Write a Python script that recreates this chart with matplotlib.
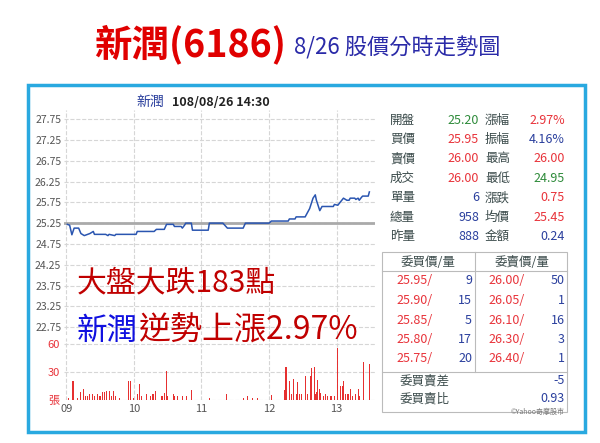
import matplotlib
matplotlib.use("Agg")
import matplotlib.pyplot as plt
from matplotlib.patches import Rectangle
from matplotlib.lines import Line2D

plt.rcParams['font.family'] = ['Noto Sans CJK TC', 'DejaVu Sans']

W, H = 600, 443

# minutes after 09:00 and price
price_t = [1, 3, 5, 7, 11, 13, 16, 21, 24, 25, 35, 37, 38, 43, 44, 62, 63, 78, 80, 87, 89, 95, 96,
           102, 103, 105, 106, 111, 112, 126, 127, 139, 143, 157, 159, 180, 182, 197, 198, 203, 204,
           212, 213, 216, 219, 221, 222, 225, 227, 237, 238, 241, 246, 249, 251, 252, 256, 257, 259,
           260, 262, 263, 268, 269]
price_v = [25.22, 25.20, 24.97, 25.13, 25.13, 25.00, 24.95, 25.00, 25.05, 24.98, 24.98, 24.95, 24.98,
           24.95, 24.98, 24.98, 25.05, 25.05, 25.10, 25.10, 25.22, 25.22, 25.17, 25.17, 25.13, 25.20,
           25.25, 25.25, 25.08, 25.08, 25.25, 25.25, 25.13, 25.13, 25.25, 25.25, 25.30, 25.30, 25.35,
           25.35, 25.40, 25.40, 25.45, 25.60, 25.85, 25.93, 25.80, 25.55, 25.65, 25.65, 25.70, 25.68,
           25.85, 25.80, 25.80, 25.85, 25.85, 25.82, 25.85, 25.80, 25.87, 25.90, 25.90, 26.00]
prev_close = 25.25

vol_t = [2, 6, 10, 13, 15, 17, 19, 21, 23, 25, 28, 30, 32, 34, 36, 38, 40, 42, 44, 47,
         55, 57, 60, 63, 65, 67, 71, 75, 77, 79, 85, 87, 89, 90, 95, 96, 99, 103, 107, 111,
         127, 142, 157, 161, 165, 170, 182, 194, 195, 198, 200, 202, 204, 205, 207, 209,
         212, 214, 217, 218, 220, 221, 222, 223, 225, 226, 228, 230, 232, 235, 238, 241,
         243, 245, 246, 248, 250, 252, 254, 257, 259, 260, 264, 269]
vol_v = [2, 21, 2, 9, 12, 4, 4, 7, 6, 4, 7, 4, 9, 9, 10, 10, 4, 10, 4, 2,
         20, 20, 2, 7, 17, 4, 6, 4, 7, 10, 4, 8, 31, 4, 6, 4, 4, 4, 4, 11,
         2, 6, 2, 4, 2, 2, 5, 11, 36, 20, 6, 23, 7, 19, 6, 7,
         26, 7, 26, 35, 36, 7, 9, 22, 12, 8, 4, 6, 4, 4, 4, 56,
         15, 15, 20, 7, 6, 12, 4, 7, 12, 4, 41, 39]

price_ticks = [27.75, 27.25, 26.75, 26.25, 25.75, 25.25, 24.75, 24.25, 23.75, 23.25, 22.75]
hour_labels = ["09", "10", "11", "12", "13"]

stats = [("開盤", "25.20", "g", "漲幅", "2.97%", "r"),
         ("買價", "25.95", "r", "振幅", "4.16%", "b"),
         ("賣價", "26.00", "r", "最高", "26.00", "r"),
         ("成交", "26.00", "r", "最低", "24.95", "g"),
         ("單量", "6", "b", "漲跌", "0.75", "r"),
         ("總量", "958", "b", "均價", "25.45", "r"),
         ("昨量", "888", "b", "金額", "0.24", "b")]
bid_p = ["25.95", "25.90", "25.85", "25.80", "25.75"]
bid_q = ["9", "15", "5", "17", "20"]
ask_p = ["26.00", "26.05", "26.10", "26.30", "26.40"]
ask_q = ["50", "1", "16", "3", "1"]

RED, BLUE, GREEN, DARK = "#e8333a", "#2a3f9d", "#2e8b3a", "#3a4a4a"
CMAP = {"r": RED, "b": BLUE, "g": GREEN}
FS = 9


def fx(x):
    return x / W


def fy(y):
    return 1 - y / H


fig = plt.figure(figsize=(6, 4.43), dpi=100)
fig.patch.set_facecolor("white")


def ax_px(x0, y0, x1, y1):
    return fig.add_axes([fx(x0), fy(y1), (x1 - x0) / W, (y1 - y0) / H])


# outer frame
fig.patches.append(Rectangle((fx(28), fy(432)), (585 - 28) / W, (432 - 85) / H,
                             transform=fig.transFigure, fill=False, ec="#29a9e0", lw=2.5))

# title
fig.text(fx(94), fy(44), "新潤(6186)", color="#e00000", fontsize=27, fontweight="bold", va="center")
fig.text(fx(294), fy(48), "8/26 股價分時走勢圖", color="#2a2aa8", fontsize=16, va="center")

# price panel
ax = ax_px(64, 110, 375, 335)
ax.plot(price_t, price_v, color="#2a55b0", lw=1.1, zorder=3)
ax.axhline(prev_close, color="#aaaaaa", lw=2, zorder=2)
ax.set_xlim(-2, 274)
ax.set_ylim(22.56, 27.97)
ax.set_yticks(price_ticks)
ax.set_yticklabels([f"{v:.2f}" for v in price_ticks])
ax.set_xticks([0, 60, 120, 180, 240])
ax.tick_params(labelbottom=False, length=0, labelsize=7.5, labelcolor="#555555", pad=2)
ax.grid(True, color="#d6d6d6", ls="--", lw=0.8)
for s in ax.spines.values():
    s.set_visible(False)
ax.set_facecolor("none")

fig.text(fx(136), fy(102), "新潤", color=BLUE, fontsize=10, va="center")
fig.text(fx(172), fy(102), "108/08/26 14:30", color="#222222", fontsize=9, fontweight="bold", va="center")

# volume panel
axv = ax_px(64, 338, 375, 400)
axv.bar(vol_t, vol_v, width=1.0, color="#e63030", zorder=3)
axv.set_xlim(-2, 274)
axv.set_ylim(0, 67)
axv.set_yticks([0, 30, 60])
axv.set_yticklabels(["張", "30", "60"])
axv.set_xticks([0, 60, 120, 180, 240])
axv.set_xticklabels(hour_labels)
axv.tick_params(length=0, labelsize=8, pad=3)
axv.tick_params(axis="y", labelcolor=RED)
axv.tick_params(axis="x", labelcolor="#555555")
axv.grid(True, color="#d6d6d6", ls="--", lw=0.8)
for s in axv.spines.values():
    s.set_visible(False)
axv.set_facecolor("none")

# overlay annotations
fig.text(fx(77), fy(283), "大盤大跌183點", color="#c00000", fontsize=21.5, va="center")
fig.text(fx(77), fy(331), "新潤", color="#1010e0", fontsize=22, va="center")
fig.text(fx(139), fy(331), "逆勢上漲2.97%", color="#c00000", fontsize=23, va="center")

# stats table
for i, (l1, v1, c1, l2, v2, c2) in enumerate(stats):
    y = fy(120 + i * 19.4)
    fig.text(fx(390), y, l1, color=DARK, fontsize=FS, va="center")
    fig.text(fx(479), y, v1, color=CMAP[c1], fontsize=FS, va="center", ha="right")
    fig.text(fx(485), y, l2, color=DARK, fontsize=FS, va="center")
    fig.text(fx(565), y, v2, color=CMAP[c2], fontsize=FS, va="center", ha="right")

# order book box
fig.patches.append(Rectangle((fx(382), fy(412)), (567 - 382) / W, (412 - 252) / H,
                             transform=fig.transFigure, fill=False, ec="#bbbbbb", lw=0.8))
for y in (271, 372):
    fig.lines.append(Line2D([fx(382), fx(567)], [fy(y), fy(y)], transform=fig.transFigure,
                            color="#bbbbbb", lw=0.8))
fig.lines.append(Line2D([fx(475), fx(475)], [fy(252), fy(372)], transform=fig.transFigure,
                        color="#bbbbbb", lw=0.8))
fig.text(fx(428), fy(262), "委買價/量", color=DARK, fontsize=FS, va="center", ha="center")
fig.text(fx(522), fy(262), "委賣價/量", color=DARK, fontsize=FS, va="center", ha="center")
for i in range(5):
    y = fy(281 + i * 19.5)
    fig.text(fx(396), y, bid_p[i] + "/", color=RED, fontsize=FS, va="center")
    fig.text(fx(472), y, bid_q[i], color=BLUE, fontsize=FS, va="center", ha="right")
    fig.text(fx(488), y, ask_p[i] + "/", color=RED, fontsize=FS, va="center")
    fig.text(fx(565), y, ask_q[i], color=BLUE, fontsize=FS, va="center", ha="right")
fig.text(fx(400), fy(381), "委買賣差", color=DARK, fontsize=FS, va="center")
fig.text(fx(565), fy(381), "-5", color=BLUE, fontsize=FS, va="center", ha="right")
fig.text(fx(400), fy(399), "委買賣比", color=DARK, fontsize=FS, va="center")
fig.text(fx(565), fy(399), "0.93", color=BLUE, fontsize=FS, va="center", ha="right")
fig.text(fx(565), fy(412), "©Yahoo奇摩股市", color="#777777", fontsize=5, va="center", ha="right")

fig.savefig("out.png", dpi=100, facecolor="white")
